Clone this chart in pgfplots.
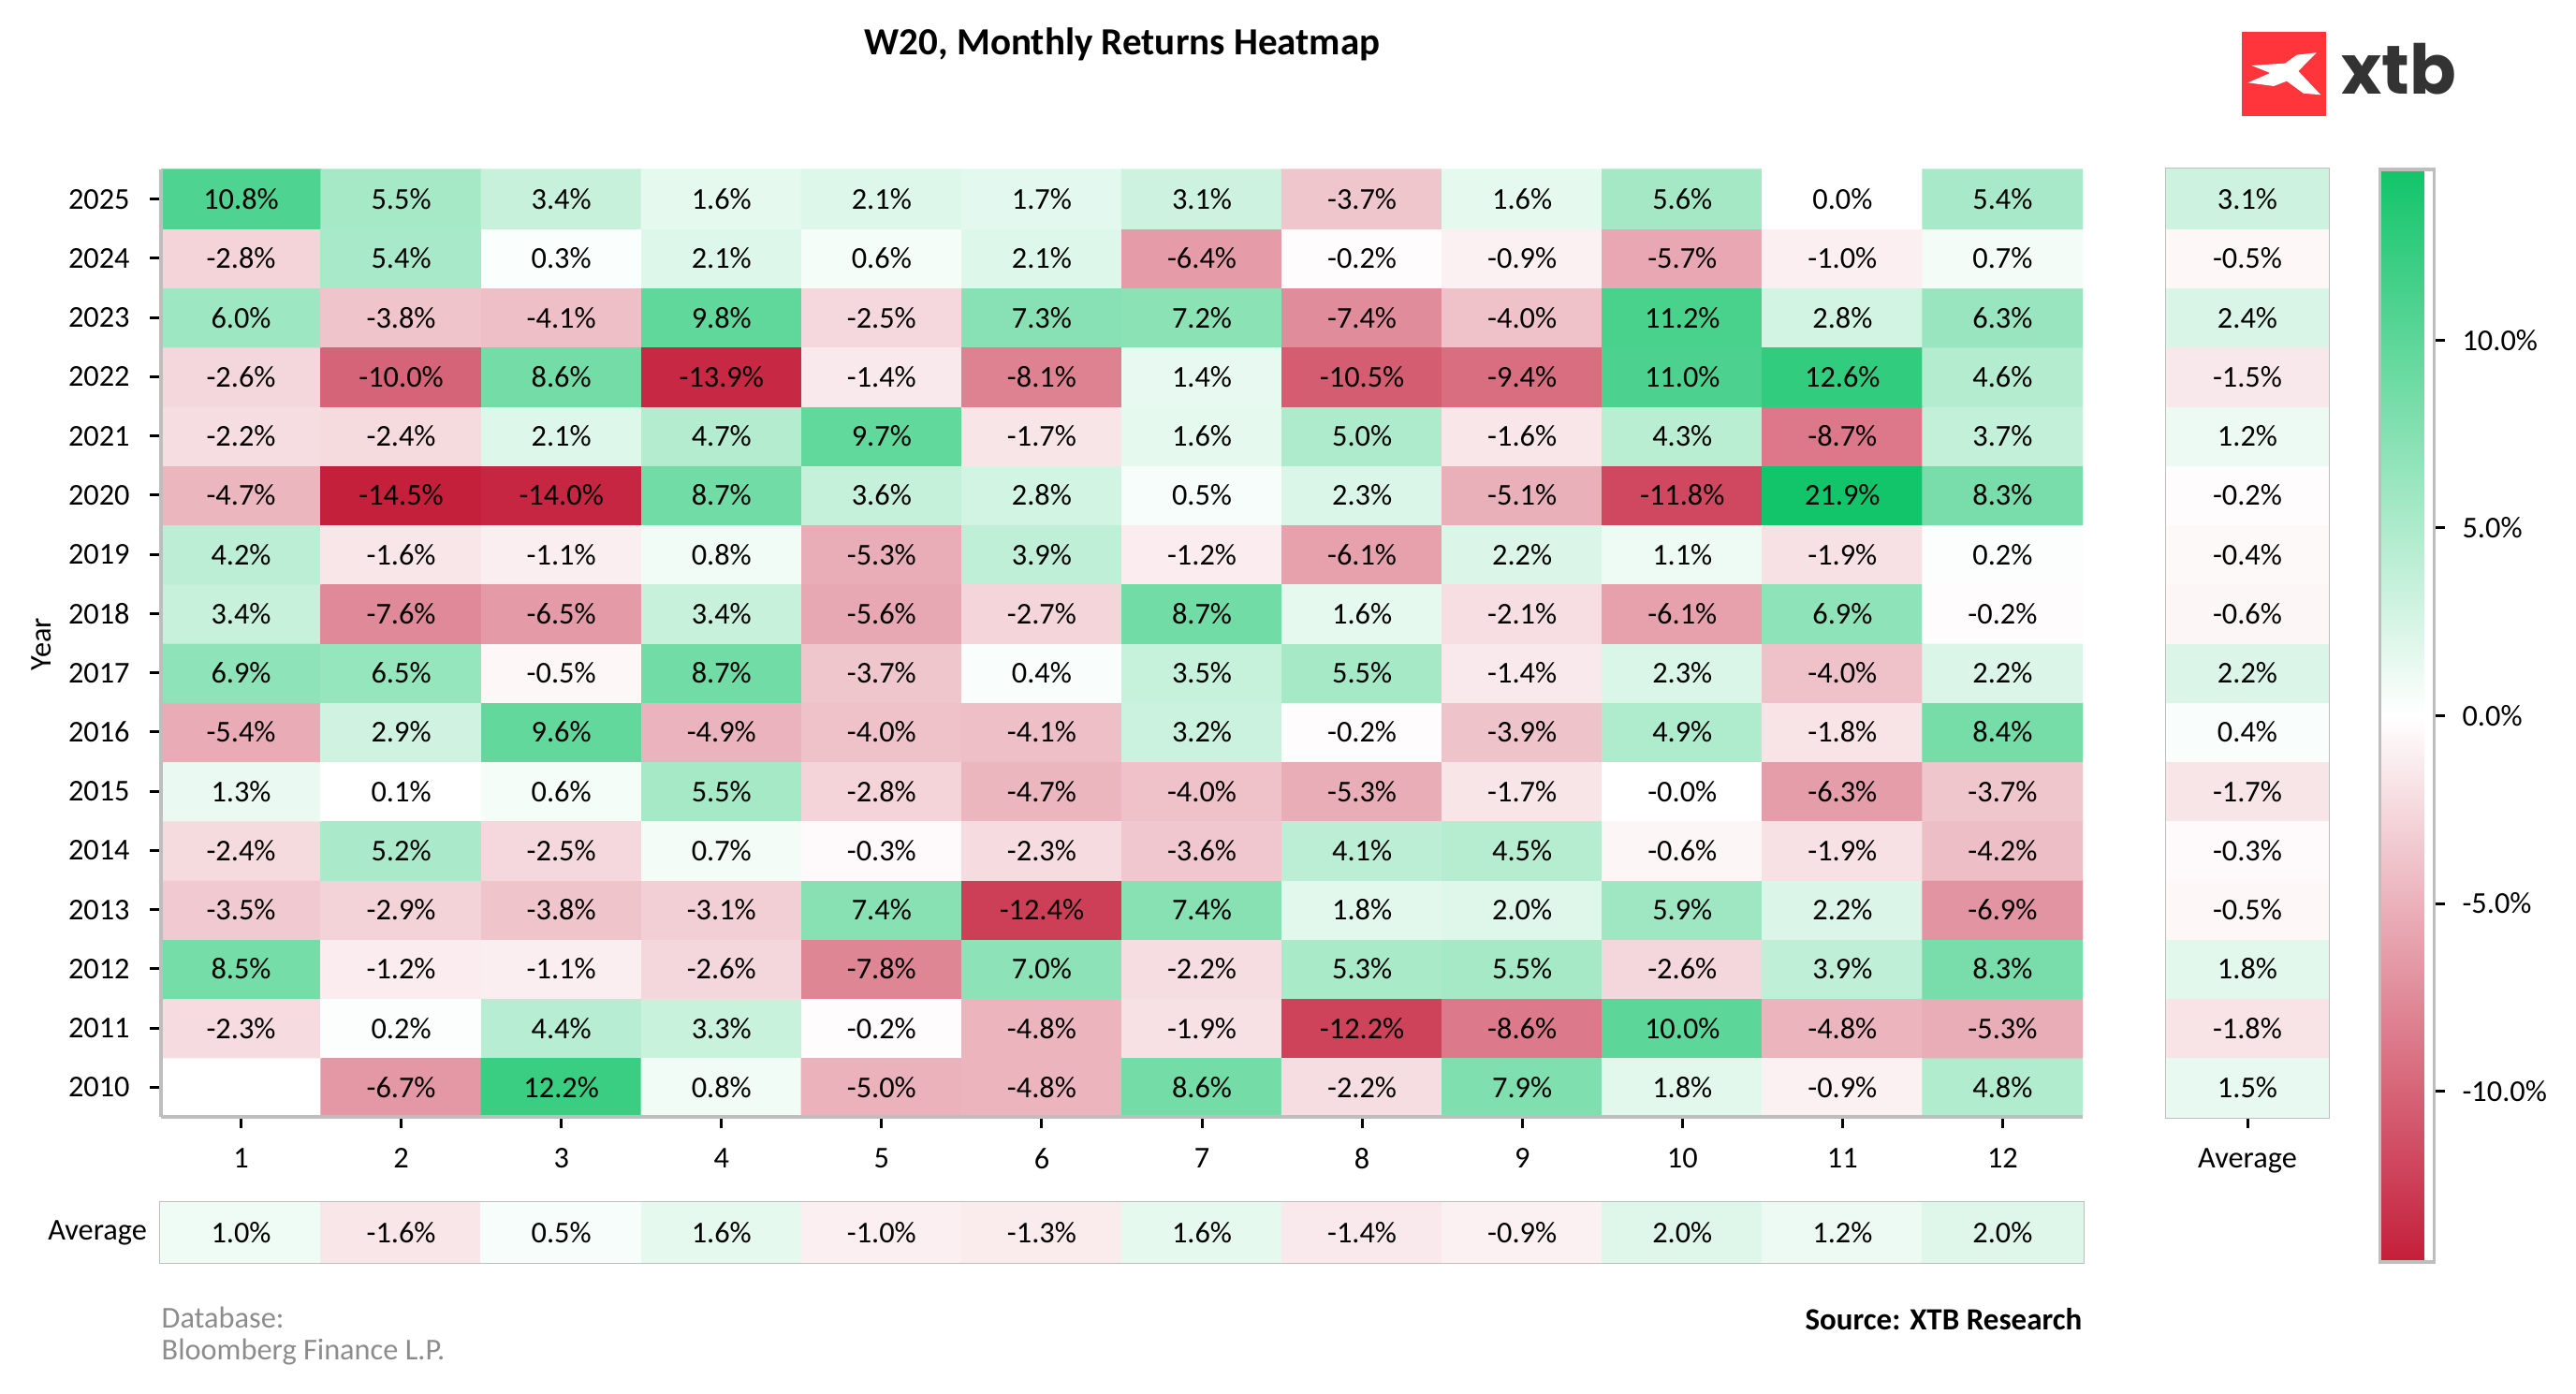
\documentclass[border=0pt]{standalone}
\usepackage{pgfplots}
\usepackage{pgfplotstable}
\pgfplotsset{compat=1.18}
\usepackage{fontspec}
\setmainfont{Carlito}
\newfontfamily\logofont{Poppins}

\definecolor{frame}{RGB}{190,190,190}
\definecolor{dbgray}{RGB}{140,140,140}
\definecolor{xtbred}{RGB}{255,53,59}
\definecolor{xtbgray}{RGB}{51,51,51}
\newcommand\fs{\fontsize{9.7}{11.6}\selectfont}

\pgfplotsset{
  colormap={rdgn}{rgb255=(196,30,58) rgb255=(255,255,255) rgb255=(18,196,106)},
  /pgf/number format/assume math mode=true,
  /pgf/number format/1000 sep={},
}

% month, year, return, printed label
\pgfplotstableread{
x y c lbl
1 2010 0 none
2 2010 -6.7 -6.7
3 2010 12.2 12.2
4 2010 0.8 0.8
5 2010 -5.0 -5.0
6 2010 -4.8 -4.8
7 2010 8.6 8.6
8 2010 -2.2 -2.2
9 2010 7.9 7.9
10 2010 1.8 1.8
11 2010 -0.9 -0.9
12 2010 4.8 4.8
1 2011 -2.3 -2.3
2 2011 0.2 0.2
3 2011 4.4 4.4
4 2011 3.3 3.3
5 2011 -0.2 -0.2
6 2011 -4.8 -4.8
7 2011 -1.9 -1.9
8 2011 -12.2 -12.2
9 2011 -8.6 -8.6
10 2011 10.0 10.0
11 2011 -4.8 -4.8
12 2011 -5.3 -5.3
1 2012 8.5 8.5
2 2012 -1.2 -1.2
3 2012 -1.1 -1.1
4 2012 -2.6 -2.6
5 2012 -7.8 -7.8
6 2012 7.0 7.0
7 2012 -2.2 -2.2
8 2012 5.3 5.3
9 2012 5.5 5.5
10 2012 -2.6 -2.6
11 2012 3.9 3.9
12 2012 8.3 8.3
1 2013 -3.5 -3.5
2 2013 -2.9 -2.9
3 2013 -3.8 -3.8
4 2013 -3.1 -3.1
5 2013 7.4 7.4
6 2013 -12.4 -12.4
7 2013 7.4 7.4
8 2013 1.8 1.8
9 2013 2.0 2.0
10 2013 5.9 5.9
11 2013 2.2 2.2
12 2013 -6.9 -6.9
1 2014 -2.4 -2.4
2 2014 5.2 5.2
3 2014 -2.5 -2.5
4 2014 0.7 0.7
5 2014 -0.3 -0.3
6 2014 -2.3 -2.3
7 2014 -3.6 -3.6
8 2014 4.1 4.1
9 2014 4.5 4.5
10 2014 -0.6 -0.6
11 2014 -1.9 -1.9
12 2014 -4.2 -4.2
1 2015 1.3 1.3
2 2015 0.1 0.1
3 2015 0.6 0.6
4 2015 5.5 5.5
5 2015 -2.8 -2.8
6 2015 -4.7 -4.7
7 2015 -4.0 -4.0
8 2015 -5.3 -5.3
9 2015 -1.7 -1.7
10 2015 -0.01 -0.0
11 2015 -6.3 -6.3
12 2015 -3.7 -3.7
1 2016 -5.4 -5.4
2 2016 2.9 2.9
3 2016 9.6 9.6
4 2016 -4.9 -4.9
5 2016 -4.0 -4.0
6 2016 -4.1 -4.1
7 2016 3.2 3.2
8 2016 -0.2 -0.2
9 2016 -3.9 -3.9
10 2016 4.9 4.9
11 2016 -1.8 -1.8
12 2016 8.4 8.4
1 2017 6.9 6.9
2 2017 6.5 6.5
3 2017 -0.5 -0.5
4 2017 8.7 8.7
5 2017 -3.7 -3.7
6 2017 0.4 0.4
7 2017 3.5 3.5
8 2017 5.5 5.5
9 2017 -1.4 -1.4
10 2017 2.3 2.3
11 2017 -4.0 -4.0
12 2017 2.2 2.2
1 2018 3.4 3.4
2 2018 -7.6 -7.6
3 2018 -6.5 -6.5
4 2018 3.4 3.4
5 2018 -5.6 -5.6
6 2018 -2.7 -2.7
7 2018 8.7 8.7
8 2018 1.6 1.6
9 2018 -2.1 -2.1
10 2018 -6.1 -6.1
11 2018 6.9 6.9
12 2018 -0.2 -0.2
1 2019 4.2 4.2
2 2019 -1.6 -1.6
3 2019 -1.1 -1.1
4 2019 0.8 0.8
5 2019 -5.3 -5.3
6 2019 3.9 3.9
7 2019 -1.2 -1.2
8 2019 -6.1 -6.1
9 2019 2.2 2.2
10 2019 1.1 1.1
11 2019 -1.9 -1.9
12 2019 0.2 0.2
1 2020 -4.7 -4.7
2 2020 -14.5 -14.5
3 2020 -14.0 -14.0
4 2020 8.7 8.7
5 2020 3.6 3.6
6 2020 2.8 2.8
7 2020 0.5 0.5
8 2020 2.3 2.3
9 2020 -5.1 -5.1
10 2020 -11.8 -11.8
11 2020 21.9 21.9
12 2020 8.3 8.3
1 2021 -2.2 -2.2
2 2021 -2.4 -2.4
3 2021 2.1 2.1
4 2021 4.7 4.7
5 2021 9.7 9.7
6 2021 -1.7 -1.7
7 2021 1.6 1.6
8 2021 5.0 5.0
9 2021 -1.6 -1.6
10 2021 4.3 4.3
11 2021 -8.7 -8.7
12 2021 3.7 3.7
1 2022 -2.6 -2.6
2 2022 -10.0 -10.0
3 2022 8.6 8.6
4 2022 -13.9 -13.9
5 2022 -1.4 -1.4
6 2022 -8.1 -8.1
7 2022 1.4 1.4
8 2022 -10.5 -10.5
9 2022 -9.4 -9.4
10 2022 11.0 11.0
11 2022 12.6 12.6
12 2022 4.6 4.6
1 2023 6.0 6.0
2 2023 -3.8 -3.8
3 2023 -4.1 -4.1
4 2023 9.8 9.8
5 2023 -2.5 -2.5
6 2023 7.3 7.3
7 2023 7.2 7.2
8 2023 -7.4 -7.4
9 2023 -4.0 -4.0
10 2023 11.2 11.2
11 2023 2.8 2.8
12 2023 6.3 6.3
1 2024 -2.8 -2.8
2 2024 5.4 5.4
3 2024 0.3 0.3
4 2024 2.1 2.1
5 2024 0.6 0.6
6 2024 2.1 2.1
7 2024 -6.4 -6.4
8 2024 -0.2 -0.2
9 2024 -0.9 -0.9
10 2024 -5.7 -5.7
11 2024 -1.0 -1.0
12 2024 0.7 0.7
1 2025 10.8 10.8
2 2025 5.5 5.5
3 2025 3.4 3.4
4 2025 1.6 1.6
5 2025 2.1 2.1
6 2025 1.7 1.7
7 2025 3.1 3.1
8 2025 -3.7 -3.7
9 2025 1.6 1.6
10 2025 5.6 5.6
11 2025 0.0 0.0
12 2025 5.4 5.4
}\heat

% yearly average
\pgfplotstableread{
x y c
0 2010 1.5
0 2011 -1.8
0 2012 1.8
0 2013 -0.5
0 2014 -0.3
0 2015 -1.7
0 2016 0.4
0 2017 2.2
0 2018 -0.6
0 2019 -0.4
0 2020 -0.2
0 2021 1.2
0 2022 -1.5
0 2023 2.4
0 2024 -0.5
0 2025 3.1
}\yavg

% monthly average
\pgfplotstableread{
x y c
1 0 1.0
2 0 -1.6
3 0 0.5
4 0 1.6
5 0 -1.0
6 0 -1.3
7 0 1.6
8 0 -1.4
9 0 -0.9
10 0 2.0
11 0 1.2
12 0 2.0
}\mavg

\begin{document}
\begin{tikzpicture}
\useasboundingbox (0,0) rectangle (825.6pt,446.7pt);

\pgfplotsset{
  hm/.style={
    scale only axis, anchor=south west,
    colormap name=rdgn,
    point meta min=-14.55, point meta max=14.55,
    ticklabel style={font=\fs},
    tick align=outside, major tick length=3.5pt,
    tick style={black, line width=0.9pt},
    axis on top,
  },
  cellnodes/.style={
    nodes near coords={\pgfplotspointmeta\%},
    every node near coord/.append style={font=\fs, anchor=center, text=black},
  },
  numnodes/.style={
    nodes near coords={\pgfmathprintnumber[fixed,fixed zerofill,precision=1]{\pgfplotspointmeta}\%},
    every node near coord/.append style={font=\fs, anchor=center, text=black},
  },
}

% main heatmap
\begin{axis}[hm,
  at={(51.6pt,88.8pt)}, width=615.9pt, height=303.6pt,
  xmin=0.5, xmax=12.5, ymin=2009.5, ymax=2025.5,
  axis x line*=bottom, axis y line*=left,
  axis line style={draw=frame, line width=1pt, -},
  xtick={1,...,12}, ytick={2010,...,2025},
  xticklabel style={yshift=-3pt},
  yticklabel style={xshift=-3pt},
]
\addplot[matrix plot*, mesh/cols=12, point meta=explicit]
  table[x=x, y=y, meta=c] {\heat};
\addplot[only marks, mark=none, point meta=explicit symbolic, cellnodes]
  table[x=x, y=y, meta=lbl, skip coords between index={0}{1}] {\heat};
\end{axis}

% yearly average column with colour bar
\begin{axis}[hm,
  at={(694.5pt,88.8pt)}, width=51.6pt, height=303.6pt,
  xmin=-0.5, xmax=0.5, ymin=2009.5, ymax=2025.5,
  axis line style={draw=frame, line width=1pt},
  xtick={0}, xticklabels={Average}, xtick pos=left, ytick=\empty,
  xticklabel style={yshift=-3pt},
  colorbar,
  colorbar style={
    at={(parent axis.north east)}, anchor=north west, xshift=8.1pt,
    scale only axis, width=17.4pt, height=350.1pt,
    axis line style={draw=frame, line width=1pt},
    xtick=\empty,
    ytick={-10,-5,0,5,10}, ytick pos=right, yticklabel pos=right,
    tick align=outside, major tick length=3.5pt,
    tick style={black, line width=0.9pt},
    yticklabel={\pgfmathprintnumber[fixed,fixed zerofill,precision=1]{\tick}\%},
    yticklabel style={font=\fs, xshift=2pt},
  },
]
\addplot[scatter, only marks, mark=square*, mark size=9.49pt,
  mark options={xscale=2.72},
  scatter/use mapped color={draw=mapped color, fill=mapped color},
  point meta=explicit]
  table[x=x, y=y, meta=c] {\yavg};
\addplot[only marks, mark=none, point meta=explicit, numnodes]
  table[x=x, y=y, meta=c] {\yavg};
\end{axis}

% monthly average row
\begin{axis}[hm,
  at={(51.6pt,42.3pt)}, width=615.9pt, height=18.9pt,
  xmin=0.5, xmax=12.5, ymin=-0.5, ymax=0.5,
  axis line style={draw=frame, line width=1pt},
  xtick=\empty, ytick={0}, yticklabels={Average},
  ytick style={draw=none},
  yticklabel style={xshift=2.5pt},
]
\addplot[scatter, only marks, mark=square*, mark size=9.45pt,
  mark options={xscale=2.716},
  scatter/use mapped color={draw=mapped color, fill=mapped color},
  point meta=explicit]
  table[x=x, y=y, meta=c] {\mavg};
\addplot[only marks, mark=none, point meta=explicit, numnodes]
  table[x=x, y=y, meta=c] {\mavg};
\end{axis}

% texts
\node[anchor=base, font=\bfseries\fontsize{12.3}{14}\selectfont] at (359.7pt,429pt) {W20, Monthly Returns Heatmap};
\node[rotate=90, font=\fs] at (13.2pt,240.3pt) {Year};
\node[anchor=base west, inner sep=0, text=dbgray, font=\fs] at (51.6pt,21pt) {Database:};
\node[anchor=base west, inner sep=0, text=dbgray, font=\fs] at (51.6pt,10.8pt) {Bloomberg Finance L.P.};
\node[anchor=base east, inner sep=0, font=\bfseries\fontsize{9.9}{11.6}\selectfont] at (667.5pt,20.4pt) {Source: XTB Research};

% logo
\fill[xtbred] (718.5pt,409.5pt) rectangle (745.5pt,436.5pt);
\fill[white] (721.6pt,425.7pt) -- (732.4pt,426.4pt) -- (736.1pt,429.1pt) -- (742.4pt,429.8pt)
  -- (736.6pt,423.9pt) -- (743.8pt,416.3pt) -- (738.2pt,416.8pt) -- (732.9pt,420.7pt)
  -- (728.7pt,419.1pt) -- (720.4pt,420.2pt) -- (727.6pt,423.3pt) -- cycle;
\node[anchor=base west, inner sep=0, text=xtbgray, font=\logofont\bfseries\fontsize{22}{22}\selectfont] at (750.3pt,416.6pt) {xtb};
\end{tikzpicture}
\end{document}
